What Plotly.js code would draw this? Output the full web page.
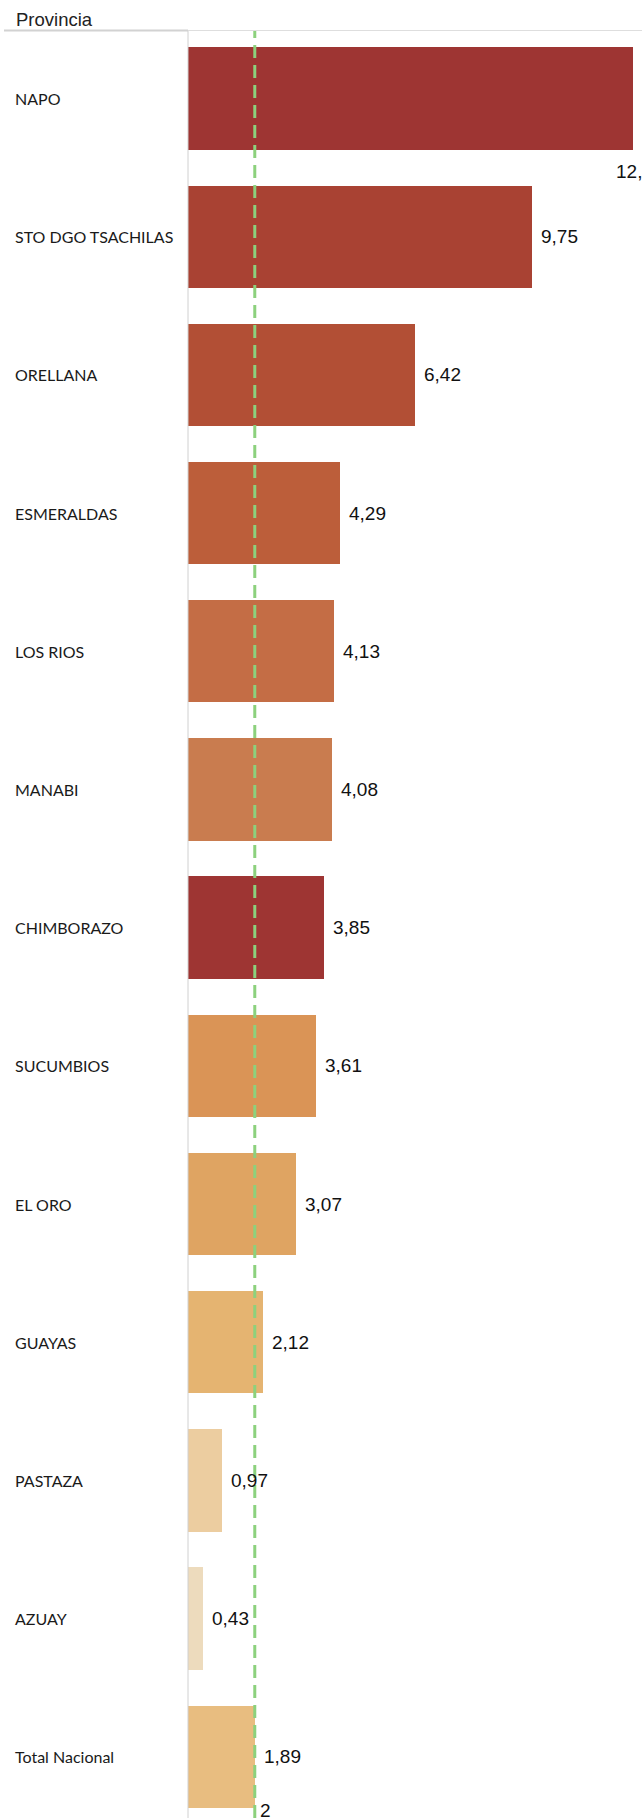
<!DOCTYPE html>
<html>
<head>
<meta charset="utf-8">
<script src="https://cdn.plot.ly/plotly-3.0.1.min.js"></script>
<style>html,body{margin:0;padding:0;background:#fff;}#chart{width:642px;height:1818px;}</style>
</head>
<body>
<div id="chart"></div>
<script>
const provincias = ["NAPO","STO DGO TSACHILAS","ORELLANA","ESMERALDAS","LOS RIOS","MANABI","CHIMBORAZO","SUCUMBIOS","EL ORO","GUAYAS","PASTAZA","AZUAY","Total Nacional"];
const valores = [12.59, 9.75, 6.42, 4.29, 4.13, 4.08, 3.85, 3.61, 3.07, 2.12, 0.97, 0.43, 1.89];
const colores = ["#9e3533","#a94233","#b24f35","#bc5e3a","#c46d45","#c97c4f","#9e3533","#da9456","#dfa462","#e5b471","#eccda0","#eddbbd","#e8bd80"];
const referencia = 1.89;
const encabezado = "Provincia";

const W = 642, H = 1818;
const L = 188, T = 31;
const plotW = W - L, plotH = H - T;
const xMax = 12.85;
const yTop = -0.488, yBottom = 12.443;

const idx = provincias.map((_, i) => i);
const fmt = v => v.toFixed(2).replace('.', ',');

const trace = {
  type: 'bar',
  orientation: 'h',
  y: idx,
  x: valores,
  width: 0.74,
  marker: {color: colores, line: {width: 0}},
  hoverinfo: 'skip'
};

const annotations = [];
provincias.forEach((p, i) => {
  annotations.push({
    xref: 'paper', yref: 'y', x: (13 - L) / plotW, y: i,
    xanchor: 'left', yanchor: 'middle', showarrow: false,
    text: p, font: {family: 'Lato, "Open Sans", sans-serif', size: 16, color: '#1a1a1a'}
  });
  const overflow = valores[i] > xMax - 1.5;
  annotations.push({
    xref: 'x', yref: 'y', x: valores[i], y: i,
    xanchor: 'left', yanchor: 'middle', showarrow: false,
    xshift: overflow ? -19 : 7, yshift: overflow ? -73 : 0,
    text: fmt(valores[i]), font: {family: 'Liberation Sans, Arial, sans-serif', size: 19, color: '#111'}
  });
});
annotations.push({
  xref: 'paper', yref: 'paper', x: (14 - L) / plotW, y: 1 + 11.5 / plotH,
  xanchor: 'left', yanchor: 'middle', showarrow: false,
  text: encabezado, font: {family: 'Liberation Sans, Arial, sans-serif', size: 18.5, color: '#222'}
});
annotations.push({
  xref: 'x', yref: 'paper', x: referencia, y: 0,
  xanchor: 'left', yanchor: 'middle', showarrow: false, xshift: 3, yshift: 8,
  text: String(Math.round(referencia)), font: {family: 'Liberation Sans, Arial, sans-serif', size: 19, color: '#111'}
});

const shapes = [
  {type: 'line', xref: 'paper', yref: 'paper', x0: (4 - L) / plotW, x1: 0, y0: 1 + 0.5 / plotH, y1: 1 + 0.5 / plotH,
   line: {color: '#d2d2d2', width: 2}},
  {type: 'line', xref: 'paper', yref: 'paper', x0: 0, x1: 1, y0: 1 + 0.5 / plotH, y1: 1 + 0.5 / plotH,
   line: {color: '#dedede', width: 1.2}},
  {type: 'line', xref: 'paper', yref: 'paper', x0: 0, x1: 0, y0: 0, y1: 1,
   line: {color: '#d0d0d0', width: 1}},
  {type: 'line', xref: 'x', yref: 'paper', x0: referencia, x1: referencia, y0: 0, y1: 1,
   line: {color: '#8cd17d', width: 3, dash: '13px,7px'}, layer: 'above'}
];

const layout = {
  width: W, height: H,
  margin: {l: L, r: 0, t: T, b: 0, pad: 0},
  paper_bgcolor: '#fff', plot_bgcolor: '#fff',
  showlegend: false,
  xaxis: {range: [0, xMax], visible: false, fixedrange: true},
  yaxis: {range: [yBottom, yTop], showticklabels: false, showgrid: false, zeroline: false, showline: false, ticks: '', fixedrange: true},
  bargap: 0,
  annotations: annotations,
  shapes: shapes
};

Plotly.newPlot('chart', [trace], layout, {displayModeBar: false, staticPlot: true});
</script>
</body>
</html>
